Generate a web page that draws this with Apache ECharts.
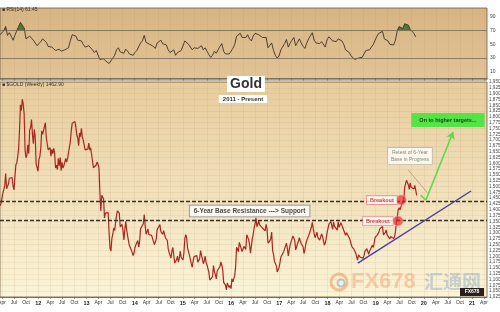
<!DOCTYPE html>
<html><head><meta charset="utf-8">
<script src="https://cdn.jsdelivr.net/npm/echarts@6/dist/echarts.min.js"></script>
<style>html,body{margin:0;padding:0;background:#fff}#c{width:500px;height:312px}</style>
</head><body><div id="c"></div>
<script>
// ---------- DATA (weekly closes) ----------
const yearStartsWeekly = ['2011-03-18','2012-01-06','2013-01-04','2014-01-03','2015-01-02','2016-01-01','2017-01-06','2018-01-05','2019-01-04'];
const gold2011 = [1418,1428,1429,1474,1486,1504,1556,1491,1493,1511,1536,1542,1529,1539,1502,1486,1542,1593,1602,1628,1663,1745,1852,1828,1876,1856,1813,1657,1624,1636,1680,1642,1745,1754,1788,1724,1685,1746,1713,1597,1605,1566];
const gold2012 = [1616,1630,1664,1740,1725,1725,1725,1775,1710,1711,1658,1662,1668,1631,1660,1642,1664,1644,1580,1592,1573,1622,1590,1626,1568,1604,1580,1590,1582,1621,1605,1620,1616,1670,1692,1740,1772,1780,1776,1780,1757,1722,1710,1676,1730,1715,1751,1713,1700,1696,1658,1657];
const gold2013 = [1656,1662,1687,1657,1667,1667,1610,1581,1576,1577,1593,1606,1596,1580,1476,1395,1463,1468,1448,1365,1386,1392,1385,1388,1297,1234,1223,1278,1295,1322,1311,1313,1375,1396,1395,1386,1327,1332,1337,1311,1271,1315,1351,1315,1288,1287,1245,1250,1228,1236,1203,1214];
const gold2014 = [1238,1250,1252,1268,1240,1262,1318,1324,1326,1340,1380,1334,1295,1304,1318,1294,1302,1302,1290,1293,1292,1250,1252,1274,1315,1316,1320,1337,1307,1306,1294,1311,1315,1280,1287,1268,1232,1216,1216,1192,1222,1238,1231,1171,1169,1185,1201,1175,1192,1222,1196,1195];
const gold2015 = [1184,1216,1277,1293,1279,1234,1227,1204,1212,1167,1153,1182,1199,1200,1204,1203,1175,1179,1189,1225,1205,1189,1168,1180,1201,1173,1163,1157,1131,1098,1094,1093,1113,1160,1134,1121,1103,1137,1145,1137,1156,1176,1162,1142,1088,1081,1076,1056,1085,1075,1066,1075];
const gold2016 = [1061,1104,1090,1098,1117,1157,1239,1230,1220,1260,1258,1255,1220,1222,1243,1235,1230,1293,1290,1273,1252,1214,1243,1275,1294,1322,1339,1366,1327,1322,1351,1335,1335,1341,1322,1327,1328,1310,1338,1317,1257,1252,1266,1276,1304,1226,1208,1178,1177,1160,1133,1133,1152];
const gold2017 = [1173,1197,1205,1190,1220,1233,1238,1257,1234,1202,1228,1249,1249,1255,1288,1284,1268,1228,1227,1254,1266,1280,1266,1254,1257,1241,1212,1228,1254,1268,1264,1288,1286,1291,1325,1346,1320,1297,1280,1275,1304,1280,1272,1270,1274,1296,1287,1280,1248,1257,1275,1302];
const gold2018 = [1320,1338,1332,1350,1333,1316,1347,1330,1323,1323,1313,1349,1325,1332,1345,1337,1323,1315,1318,1291,1302,1294,1299,1279,1269,1253,1241,1241,1231,1222,1213,1211,1184,1206,1200,1196,1193,1199,1192,1203,1222,1228,1233,1233,1209,1222,1222,1221,1248,1238,1257,1281];
const gold2019 = [1286,1290,1282,1303,1318,1316,1322,1328,1292,1298,1302,1313,1292,1291,1290,1275,1286,1280,1286,1276,1285,1305,1342,1342,1399,1409,1400,1414,1425,1419,1440,1497,1513,1527,1520,1507,1488,1516,1497,1505,1489,1490,1505,1513,1462];

// RSI(14), read every second week
const yearStartsRsi = ['2011-03-18','2012-01-06','2013-01-04','2014-01-03','2015-01-02','2016-01-01','2017-01-13','2018-01-12','2019-01-11'];
const rsi2011 = [64,66,70,76,63,67,62,56,63,70,76,82,84,74,58,60,62,64,56,57,48];
const rsi2012 = [51,54,58,57,53,47,48,46,48,41,40,43,40,42,42,43,45,55,64,66,62,56,57,55,50,46];
const rsi2013 = [47,48,47,42,38,41,40,28,30,29,26,27,22,21,30,34,42,45,39,40,37,43,40,36,35,34];
const rsi2014 = [38,41,42,52,55,63,53,52,50,48,47,44,52,54,56,51,52,49,42,38,37,42,34,38,38,41];
const rsi2015 = [42,55,57,50,48,42,45,46,44,46,48,42,45,40,35,31,34,40,37,42,47,51,40,36,37,36];
const rsi2016 = [38,44,50,62,62,66,60,61,60,64,58,55,62,66,68,64,62,60,59,60,45,46,52,41,34,30,33];
const rsi2017 = [42,44,51,57,46,52,56,60,48,53,58,52,47,44,52,58,60,67,56,52,54,51,54,52,46,57];
const rsi2018 = [61,63,55,56,54,58,56,55,50,42,44,38,33,31,28,26,30,29,31,33,41,42,42,43,50,56];
const rsi2019 = [62,66,67,69,58,60,55,50,51,49,56,70,76,74,73,80,82,78,72,70,66,61];

// tick labels
const xTickDates = ['2011-04-01','2011-07-01','2011-10-01','2012-01-01','2012-04-01','2012-07-01','2012-10-01','2013-01-01','2013-04-01','2013-07-01','2013-10-01','2014-01-01','2014-04-01','2014-07-01','2014-10-01','2015-01-01','2015-04-01','2015-07-01','2015-10-01','2016-01-01','2016-04-01','2016-07-01','2016-10-01','2017-01-01','2017-04-01','2017-07-01','2017-10-01','2018-01-01','2018-04-01','2018-07-01','2018-10-01','2019-01-01','2019-04-01','2019-07-01','2019-10-01','2020-01-01','2020-04-01','2020-07-01','2020-10-01','2021-01-01','2021-04-01'];
const xTickLabels = ['Apr','Jul','Oct','12','Apr','Jul','Oct','13','Apr','Jul','Oct','14','Apr','Jul','Oct','15','Apr','Jul','Oct','16','Apr','Jul','Oct','17','Apr','Jul','Oct','18','Apr','Jul','Oct','19','Apr','Jul','Oct','20','Apr','Jul','Oct','21','Apr'];
const rsiTickValues = [10,30,50,70,90];
const rsiLevels = [30,70];

// annotations
const baseLevels = [1355,1435];
const trendDates = ['2018-08-19','2020-12-24'];
const trendPrices = [1171,1481];
const arrowDates = ['2019-12-08','2020-01-17','2020-08-10'];
const arrowPrices = [1464,1442,1735];
const channelDates = ['2019-09-05','2020-01-28'];
const channelPrices = [1571,1474];
const breakoutDates = ['2019-07-14','2019-06-19'];
const breakoutPrices = [1442,1352];
const noteTexts = ['6-Year Base Resistance ---> Support','Breakout','Breakout','Retest of 6-Year\nBase in Progress','On to higher targets...'];
const noteDates = ['2016-05-21','2019-02-17','2019-01-18','2019-09-18','2020-07-02'];
const notePrices = [1395,1442,1352,1632,1786];

// ---------- BUILD ----------
const DAY = 86400000;
const ts = s => Date.parse(s);
function series(starts, blocks, stepWeeks) {
  let out = [];
  blocks.forEach((b, k) => { const t0 = ts(starts[k]); b.forEach((v, i) => out.push([t0 + i * stepWeeks * 7 * DAY, v])); });
  return out;
}
const goldData = series(yearStartsWeekly, [gold2011,gold2012,gold2013,gold2014,gold2015,gold2016,gold2017,gold2018,gold2019], 1);
const rsiData = series(yearStartsRsi, [rsi2011,rsi2012,rsi2013,rsi2014,rsi2015,rsi2016,rsi2017,rsi2018,rsi2019], 2);
const tickTs = xTickDates.map(ts);
const labelMap = {}; tickTs.forEach((t, i) => labelMap[t] = xTickLabels[i]);
const xMin = ts('2011-03-17'), xMax = ts('2021-04-24');
const FONT = 'Liberation Sans, Arial, sans-serif';

const noteStyles = [
  {fontSize:6.5, fontWeight:'bold', color:'#222', backgroundColor:'#fff', borderColor:'#777', borderWidth:0.8, padding:[2,4]},
  {fontSize:5.5, fontWeight:'bold', color:'#d01818', backgroundColor:'#fff', borderColor:'#e08080', borderWidth:0.8, padding:[1,3]},
  {fontSize:5.5, fontWeight:'bold', color:'#d01818', backgroundColor:'#fff', borderColor:'#e08080', borderWidth:0.8, padding:[1,3]},
  {fontSize:5, color:'#557060', backgroundColor:'#fff', borderColor:'#aaa', borderWidth:0.6, padding:[1,3], lineHeight:7},
  {fontSize:5.5, fontWeight:'bold', color:'#111', backgroundColor:'#2de82d', padding:[4,8]}
];

const gridBg = (a, b) => ({type:'linear', x:0, y:0, x2:0, y2:1, colorStops:[{offset:0, color:a},{offset:1, color:b}]});
const xAxisBase = {
  type:'value', min:xMin, max:xMax,
  axisLine:{show:true, lineStyle:{color:'#6b5b45', width:0.8}},
  axisTick:{show:true, customValues:tickTs, length:2, lineStyle:{color:'#6b5b45', width:0.6}},
  splitLine:{show:true, lineStyle:{color:'rgba(180,140,90,0.22)', width:0.6}}
};

const option = {
  animation:false,
  textStyle:{fontFamily:FONT},
  grid:[
    {left:0, right:13, top:8, height:72, outerBoundsMode:'none', containLabel:false, show:true, borderColor:'#6b5b45', borderWidth:0.8, backgroundColor:gridBg('#d8b483','#e2c497')},
    {left:0, right:13, top:82, height:215, outerBoundsMode:'none', containLabel:false, show:true, borderColor:'#6b5b45', borderWidth:0.8, backgroundColor:gridBg('#e7cc9c','#fbf4d8')}
  ],
  xAxis:[
    Object.assign({}, xAxisBase, {gridIndex:0, axisLabel:{show:false}}),
    Object.assign({}, xAxisBase, {gridIndex:1, axisLabel:{show:true, customValues:tickTs, fontSize:5, color:'#333', margin:3,
      formatter:v => { const l = labelMap[v] || ''; return /^\d+$/.test(l) ? '{y|' + l + '}' : l; },
      rich:{y:{fontSize:5.5, fontWeight:'bold', color:'#222'}}}})
  ],
  yAxis:[
    {gridIndex:0, type:'value', min:-2, max:103, position:'right',
      axisLine:{show:false}, axisTick:{show:false}, splitLine:{show:false},
      axisLabel:{customValues:rsiTickValues, fontSize:5, color:'#444', margin:3}},
    {gridIndex:1, type:'value', min:1025, max:1950, interval:25, position:'right',
      axisLine:{show:false}, axisTick:{show:false},
      splitLine:{show:true, lineStyle:{color:'rgba(180,140,90,0.18)', width:0.6}},
      axisLabel:{fontSize:4.6, color:'#444', margin:2}}
  ],
  visualMap:[{type:'piecewise', show:false, seriesIndex:0, dimension:1,
    pieces:[{min:70, max:200, color:'#4d7a34'},{min:-100, max:70, color:'rgba(0,0,0,0)'}]}],
  series:[
    {type:'line', xAxisIndex:0, yAxisIndex:0, data:rsiData, showSymbol:false, silent:true,
      lineStyle:{width:0}, areaStyle:{origin:70, opacity:1}, z:2},
    {type:'line', xAxisIndex:0, yAxisIndex:0, data:rsiData, showSymbol:false, silent:true,
      lineStyle:{width:0.9, color:'#3d3226'}, itemStyle:{color:'#3d3226'}, z:3,
      markLine:{silent:true, symbol:'none', label:{show:false},
        lineStyle:{color:'#7a6a55', width:0.8, type:'solid'},
        data:rsiLevels.map(v => ({yAxis:v}))}},
    {type:'line', xAxisIndex:1, yAxisIndex:1, data:goldData, showSymbol:false, silent:true,
      lineStyle:{width:1.2, color:'#a8281f'}, itemStyle:{color:'#a8281f'}, z:3,
      markLine:{silent:true, symbol:'none', label:{show:false}, animation:false,
        data:[
          ...baseLevels.map(v => ({yAxis:v, lineStyle:{color:'#3a3128', width:1.3, type:[4,2]}})),
          [{coord:[ts(trendDates[0]), trendPrices[0]], lineStyle:{color:'#4a3fa0', width:1.4, type:'solid'}},
           {coord:[ts(trendDates[1]), trendPrices[1]]}],
          [{coord:[ts(channelDates[0]), channelPrices[0]], lineStyle:{color:'#c08a80', width:0.8, type:'solid'}},
           {coord:[ts(channelDates[1]), channelPrices[1]]}],
          [{coord:[ts(arrowDates[0]), arrowPrices[0]], lineStyle:{color:'#5fd84a', width:1.6, type:'solid'}},
           {coord:[ts(arrowDates[1]), arrowPrices[1]]}],
          [{coord:[ts(arrowDates[1]), arrowPrices[1]], lineStyle:{color:'#5fd84a', width:1.6, type:'solid'}},
           {coord:[ts(arrowDates[2]), arrowPrices[2]], symbol:'arrow', symbolSize:7}]
        ]}},
    {type:'scatter', xAxisIndex:1, yAxisIndex:1, silent:true, z:5,
      data:breakoutDates.map((d, i) => [ts(d), breakoutPrices[i]]),
      symbolSize:10, itemStyle:{color:'rgba(228,40,40,0.85)', borderColor:'rgba(255,160,160,0.9)', borderWidth:1}},
    {type:'scatter', xAxisIndex:1, yAxisIndex:1, silent:true, z:6, symbolSize:0,
      data:noteTexts.map((t, i) => ({value:[ts(noteDates[i]), notePrices[i]],
        label:Object.assign({show:true, position:'inside', formatter:t}, noteStyles[i])}))}
  ],
  graphic:[
    {type:'text', left:2, top:7, z:10, style:{text:'■ RSI(14) 61.45', font:'5px ' + FONT, fill:'#333'}},
    {type:'text', left:2, top:82, z:10, style:{text:'■ $GOLD (Weekly) 1462.90', font:'5px ' + FONT, fill:'#333'}},
    {type:'text', x:246, y:84, z:10, style:{text:'Gold', font:'bold 14px ' + FONT, fill:'#333', align:'center', verticalAlign:'middle',
      backgroundColor:'#fff', padding:[1,3], boxShadowBlur:3, boxShadowColor:'rgba(0,0,0,0.35)', boxShadowOffsetX:1, boxShadowOffsetY:1}},
    {type:'text', x:243, y:99, z:10, style:{text:'2011 - Present', font:'bold 6px ' + FONT, fill:'#333', align:'center', verticalAlign:'middle',
      backgroundColor:'#fff', padding:[1,4], boxShadowBlur:2, boxShadowColor:'rgba(0,0,0,0.3)'}},
    // watermark
    {type:'circle', shape:{cx:339, cy:282, r:8}, z:8, style:{fill:'none', stroke:'rgba(240,150,90,0.55)', lineWidth:3}},
    {type:'circle', shape:{cx:341, cy:283, r:3.5}, z:8, style:{fill:'none', stroke:'rgba(120,170,210,0.55)', lineWidth:2}},
    {type:'text', x:351, y:282, z:8, style:{text:'FX678', font:'bold 22px ' + FONT, fill:'rgba(240,150,95,0.42)', verticalAlign:'middle'}},
    {type:'text', x:424, y:282, z:8, style:{text:'汇通网', font:'bold 19px "Noto Sans CJK SC"', fill:'rgba(110,155,195,0.38)', verticalAlign:'middle'}},
    {type:'rect', shape:{x:460, y:288, width:24, height:8}, z:9, style:{fill:'#2a1f1f'}},
    {type:'text', x:472, y:292, z:10, style:{text:'FX678', font:'bold 5px ' + FONT, fill:'#fff', align:'center', verticalAlign:'middle'}}
  ]
};
const chart = echarts.init(document.getElementById('c'));
chart.setOption(option);
</script></body></html>
